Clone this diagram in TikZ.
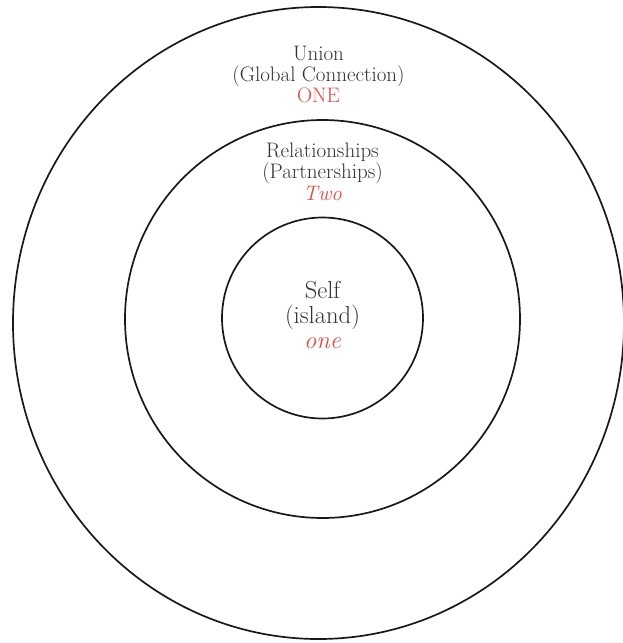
\documentclass[tikz,border=0pt]{standalone}
\definecolor{inkgray}{HTML}{333333}
\definecolor{numred}{HTML}{E8473F}
\tikzset{
  ring/.style={line width=1.7pt, black!90},
  lbl/.style={anchor=base, inner sep=0pt, text=inkgray, font=\fontsize{21}{25}\selectfont},
  biglbl/.style={lbl, font=\fontsize{24.6}{28}\selectfont},
  num/.style={lbl, text=numred},
}
\begin{document}
\begin{tikzpicture}[x=1pt, y=-1pt]
        \useasboundingbox (0,0) rectangle (623,643);
        % rings
        \draw[ring] (318.5,323) ellipse [x radius=305.5pt, y radius=316pt];
        \draw[ring] (322.5,319) ellipse [x radius=197.5pt, y radius=199pt];
        \draw[ring] (322.5,318) circle (100.5pt);
        % outer ring
        \node[lbl] (union) at (318.5,60) {Union};
        \node[lbl] (global) at (318.5,81) {(Global Connection)};
        \node[num] (onecaps) at (318.5,102) {ONE};
        % middle ring
        \node[lbl] (relation) at (322.5,157) {Relationships};
        \node[lbl] (partner) at (322.5,178) {(Partnerships)};
        \node[num, font=\fontsize{21}{25}\selectfont\itshape] (two) at (322.5,200) {Two};
        % inner ring
        \node[biglbl] (self) at (322.5,298) {Self};
        \node[biglbl] (island) at (322.5,323) {(island)};
        \node[biglbl, text=numred, font=\fontsize{24.6}{28}\selectfont\itshape] (one) at (322.5,348) {one};
      \end{tikzpicture}
\end{document}
